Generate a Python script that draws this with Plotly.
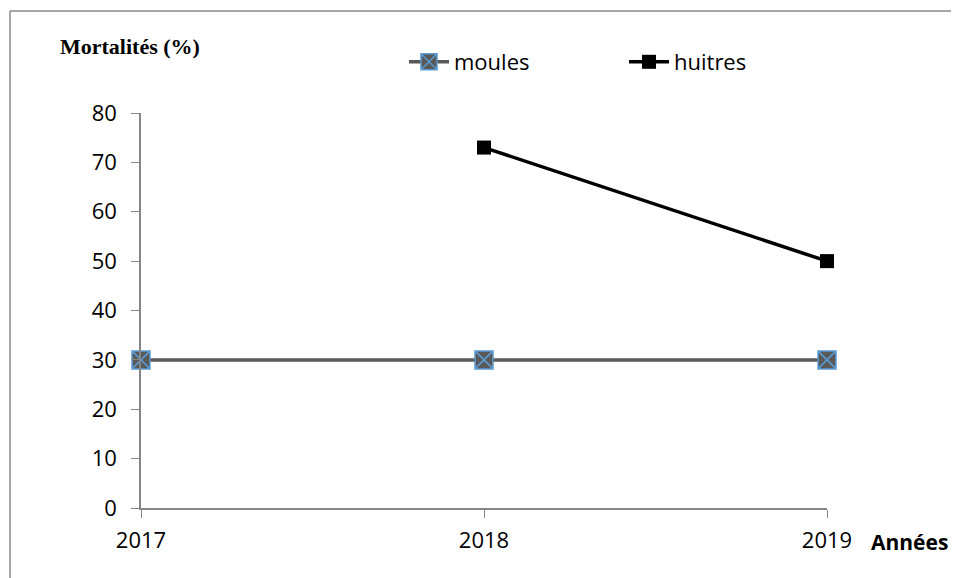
import plotly.graph_objects as go

years = [2017, 2018, 2019]
moules = [30, 30, 30]
huitres = [None, 73, 50]
y_ticks = [0, 10, 20, 30, 40, 50, 60, 70, 80]

OFF = 8  # default body margin of the html page
W, H = 959 - OFF, 578 - OFF
L, R, T, B = 141 - OFF, 132, 113 - OFF, 70
pw, ph = W - L - R, H - T - B

def px_x(p):
    return (p - OFF - L) / pw

def px_y(p):
    return (H - B - (p - OFF)) / ph

fig = go.Figure()
fig.add_trace(go.Scatter(
    x=years, y=moules, name="moules", mode="lines+markers", cliponaxis=False,
    line=dict(color="#595959", width=3.5),
    marker=dict(symbol="square-x", size=18, color="#595959",
                line=dict(color="#5b9bd5", width=1.5)),
))
fig.add_trace(go.Scatter(
    x=years, y=huitres, name="huitres", mode="lines+markers", cliponaxis=False,
    line=dict(color="#000000", width=3.5),
    marker=dict(symbol="square", size=14, color="#000000"),
))

axis_font = dict(family="Open Sans, Noto Sans, sans-serif", size=22, color="#000000")
fig.update_layout(
    width=W, height=H,
    margin=dict(l=L, r=R, t=T, b=B, autoexpand=False),
    paper_bgcolor="white", plot_bgcolor="white",
    showlegend=True,
    legend=dict(orientation="h", x=px_x(404), xanchor="left",
                y=px_y(62), yanchor="middle",
                font=dict(family="Open Sans, Noto Sans, sans-serif", size=22, color="#000"),
                entrywidth=165, entrywidthmode="pixels", itemwidth=40,
                bgcolor="rgba(0,0,0,0)"),
    xaxis=dict(range=[2017, 2019], tickvals=years, ticktext=[str(y) for y in years],
               showgrid=False, zeroline=False, showline=True, linecolor="#868686",
               linewidth=1.5, ticks="outside", ticklen=8, tickcolor="#868686",
               tickfont=axis_font, ticklabelstandoff=4),
    yaxis=dict(range=[0, 80], tickvals=y_ticks, showgrid=False, zeroline=False,
               showline=True, linecolor="#868686", linewidth=1.5, ticks="outside",
               ticklen=8, tickcolor="#868686", tickfont=axis_font, ticklabelstandoff=10),
    shapes=[
        dict(type="line", xref="paper", yref="paper", x0=px_x(10), x1=px_x(959),
             y0=px_y(11), y1=px_y(11), line=dict(color="#8a8a8a", width=1.5)),
        dict(type="line", xref="paper", yref="paper", x0=px_x(10), x1=px_x(10),
             y0=px_y(11), y1=px_y(578), line=dict(color="#8a8a8a", width=1.5)),
    ],
    annotations=[
        dict(text="<b>Mortalités (%)</b>", xref="paper", yref="paper",
             x=px_x(58), y=px_y(46), xanchor="left", yanchor="middle", showarrow=False,
             font=dict(family="Liberation Serif, Times New Roman, serif", size=22, color="#000")),
        dict(text="<b>Années</b>", xref="paper", yref="paper",
             x=px_x(869), y=px_y(542), xanchor="left", yanchor="middle", showarrow=False,
             font=dict(family="Open Sans, Noto Sans, sans-serif", size=21, color="#000")),
    ],
)

fig.write_html("out.html")
